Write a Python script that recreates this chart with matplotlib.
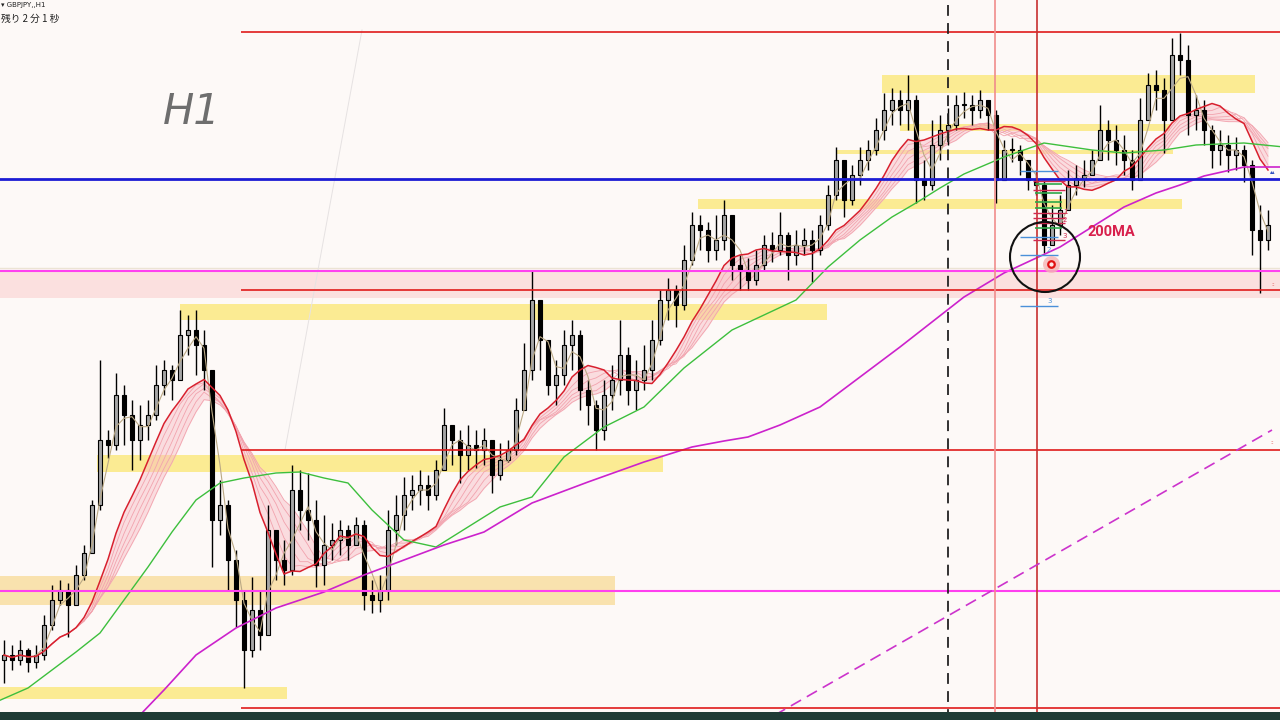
import numpy as np
import pandas as pd
import matplotlib
matplotlib.use("Agg")
import matplotlib.pyplot as plt
from matplotlib.patches import Ellipse, Rectangle

# ---------------- data (price units = chart levels) ----------------
first_open = 60
closes = [65, 60, 70, 58, 65, 95, 120, 130, 115, 145, 167, 215, 280, 275, 325, 305, 280, 295, 305, 335,
          350, 340, 385, 390, 375, 350, 200, 215, 160, 120, 70, 110, 85, 190, 160, 150, 230, 210, 200, 155,
          175, 180, 190, 175, 195, 125, 120, 130, 190, 205, 225, 230, 235, 225, 250, 295, 280, 265, 275, 270,
          280, 245, 260, 270, 310, 350, 420, 380, 335, 345, 375, 385, 330, 315, 290, 325, 340, 365, 330, 340,
          350, 380, 420, 430, 415, 460, 495, 490, 470, 480, 505, 455, 450, 440, 455, 475, 470, 485, 465, 475,
          480, 470, 495, 525, 560, 520, 545, 560, 570, 590, 610, 620, 610, 620, 540, 535, 575, 590, 595, 615,
          615, 610, 620, 605, 540, 570, 570, 560, 540, 535, 475, 495, 510, 535, 542, 545, 560, 590, 580, 570,
          560, 540, 600, 635, 630, 600, 665, 660, 605, 610, 590, 570, 575, 565, 570, 555, 490, 480, 495]
highs = [80, 75, 80, 72, 75, 105, 135, 140, 137, 155, 175, 220, 360, 290, 347, 335, 320, 315, 320, 355,
         360, 355, 410, 405, 410, 390, 340, 240, 220, 170, 130, 143, 130, 215, 190, 180, 255, 250, 247, 220,
         205, 197, 200, 195, 203, 200, 140, 145, 210, 225, 243, 245, 250, 245, 260, 312, 295, 290, 295, 290,
         292, 275, 277, 280, 322, 377, 450, 420, 370, 360, 390, 400, 390, 340, 320, 340, 355, 400, 373, 360,
         375, 400, 430, 442, 435, 475, 508, 505, 498, 505, 520, 495, 465, 462, 470, 485, 488, 508, 488, 490,
         492, 490, 505, 535, 573, 545, 555, 573, 580, 602, 627, 632, 630, 645, 625, 560, 600, 605, 612, 625,
         628, 625, 630, 620, 610, 580, 582, 575, 560, 550, 540, 515, 525, 550, 555, 560, 570, 615, 600, 595,
         585, 570, 622, 647, 650, 642, 682, 687, 675, 625, 620, 595, 590, 585, 583, 575, 560, 515, 510]
lows = [37, 50, 55, 48, 52, 60, 90, 115, 83, 120, 140, 180, 210, 262, 270, 275, 250, 260, 280, 300,
        325, 320, 340, 365, 345, 330, 153, 185, 130, 93, 32, 63, 70, 95, 140, 135, 145, 190, 180, 133,
        135, 160, 165, 160, 175, 110, 107, 108, 120, 175, 190, 210, 215, 210, 220, 250, 255, 237, 250, 252,
        255, 227, 240, 258, 265, 320, 340, 350, 325, 315, 335, 350, 310, 295, 270, 280, 310, 325, 315, 310,
        330, 340, 375, 400, 393, 410, 455, 470, 458, 460, 470, 440, 430, 430, 435, 450, 458, 465, 440, 455,
        465, 438, 465, 490, 520, 503, 515, 535, 550, 565, 580, 595, 595, 590, 517, 520, 530, 560, 575, 590,
        602, 595, 602, 590, 517, 545, 558, 545, 530, 525, 467, 475, 485, 520, 525, 533, 548, 570, 560, 555,
        545, 530, 545, 600, 610, 567, 600, 645, 585, 590, 575, 552, 555, 548, 550, 538, 465, 427, 470]

# slow moving averages (bar index, level)
green_idx = [-1, 3, 6, 9, 12, 15, 18, 21, 24, 27, 30, 34, 37, 40, 43, 46, 50, 54, 58, 62, 66, 70, 75,
             80, 85, 91, 95, 99, 103, 107, 111, 114, 117, 120, 125, 130, 136, 140, 145, 149, 155, 160]
green_val = [18, 32, 50, 68, 87, 120, 153, 188, 220, 237, 242, 247, 248, 242, 237, 210, 180, 173, 193,
             213, 223, 263, 293, 313, 352, 390, 405, 420, 453, 480, 503, 517, 532, 546, 563, 577, 570, 567,
             570, 575, 577, 573]
ma200_idx = [16, 17, 20, 24, 29, 34, 40, 45, 50, 55, 60, 66, 73, 80, 86, 90, 93, 97, 102, 107, 112, 116,
             120, 125, 132, 136, 140, 144, 147, 150, 155, 160]
ma200_val = [-5, 5, 30, 65, 92, 112, 128, 145, 160, 175, 188, 217, 238, 258, 273, 279, 283, 295, 313, 343,
             373, 398, 423, 447, 473, 493, 513, 527, 535, 544, 553, 553]

red_levels = [688, 430, 270, 12]
blue_level = 541
magenta_levels = [449, 129]

# zones: (left px, right px, low level, high level)
yellow_zones = [(882, 1255, 627, 645), (900, 1170, 589, 596), (837, 1173, 566, 570),
                (698, 1182, 511, 521), (180, 827, 400, 416), (97, 663, 248, 265), (0, 287, 21, 33)]
orange_zone = (0, 615, 115, 144)
pink_zone = (0, 1280, 422, 448)

fib_blue = [549, 483, 465, 414]
fib_green = [536, 527, 518, 512, 492]
fib_red = [539, 530, 507, 502, 497, 480]

# ---------------- figure ----------------
W, H = 1280, 720
fig = plt.figure(figsize=(12.8, 7.2), dpi=100)
fig.patch.set_facecolor("#fdf9f7")
ax = fig.add_axes([0, 0, 1, 1])
ax.set_facecolor("#fdf9f7")
n = len(closes)
ax.set_xlim(-0.5, -0.5 + W / 8.0)
ax.set_ylim(0, H)
ax.axis("off")


def px(p):
    return (p - 4) / 8.0


# zones
for (x0, x1, lo, hi) in yellow_zones:
    ax.add_patch(Rectangle((px(x0), lo), px(x1) - px(x0), hi - lo, color="#fbeb93", lw=0, zorder=1))
x0, x1, lo, hi = orange_zone
ax.add_patch(Rectangle((px(x0), lo), px(x1) - px(x0), hi - lo, color="#f9e2ae", lw=0, zorder=1))
x0, x1, lo, hi = pink_zone
ax.add_patch(Rectangle((px(x0) - 1, lo), px(x1) - px(x0) + 2, hi - lo, color="#fbe0df", lw=0, zorder=1))
ax.axhline(452, color="#ece4d4", lw=1.0, zorder=1.5)

# faint diagonal
ax.plot([px(285), px(362)], [270, 690], color="#e6e2e2", lw=0.7, zorder=1.5)

idx = np.arange(n)
c = np.array(closes, float)
o = np.r_[first_open, c[:-1]]
hi = np.maximum(np.array(highs, float), np.maximum(o, c))
lo = np.minimum(np.array(lows, float), np.minimum(o, c))

# moving averages from closes
s = pd.Series(c)
tan = s.rolling(3, min_periods=1).mean()
red = s.rolling(10, min_periods=1).mean()
rib = [s.rolling(w, min_periods=1).mean() for w in (11, 12, 13, 14, 15)]

ax.fill_between(idx, red, rib[-1], color="#f7b9c2", alpha=0.45, lw=0, zorder=2)
for r in rib:
    ax.plot(idx, r, color="#f2a3ae", lw=0.6, zorder=2.2)

# candles
ax.vlines(idx, lo, hi, color="black", lw=1.0, zorder=3)
bull = c >= o
ax.bar(idx[bull], np.maximum(c - o, 1)[bull], bottom=o[bull], width=0.55,
       color="#a6a6a6", edgecolor="black", lw=0.8, zorder=3.2)
ax.bar(idx[~bull], np.maximum(o - c, 1)[~bull], bottom=c[~bull], width=0.55,
       color="black", edgecolor="black", lw=0.8, zorder=3.2)

ax.plot(idx, tan, color="#bba985", lw=0.8, zorder=3.5)
ax.plot(idx, red, color="#d8202e", lw=1.1, zorder=3.6)
ax.plot(green_idx, green_val, color="#3dbf3d", lw=1.0, zorder=3.6)
ax.plot(ma200_idx, ma200_val, color="#cc22cc", lw=1.2, zorder=3.6)

# horizontal levels
for lv in red_levels:
    ax.hlines(lv, px(241), px(1280), color="#e01b1b", lw=1.2, zorder=4)
ax.axhline(blue_level, color="#1c1cd4", lw=2.0, zorder=4)
for lv in magenta_levels:
    ax.axhline(lv, color="#ff40f0", lw=1.5, zorder=4)

# vertical lines
ax.axvline(px(948), color="#222222", lw=1.3, ls=(0, (6, 4)), zorder=4)
ax.axvline(px(995), color="#f08c8c", lw=1.2, zorder=4)
ax.axvline(px(1037), color="#c83030", lw=1.2, zorder=4)

# dashed magenta trend line
ax.plot([px(775), px(1272)], [5, 290], color="#cc33cc", lw=1.2, ls=(0, (7, 4)), zorder=4)

# fib-like short levels
for lv in fib_blue:
    ax.hlines(lv, px(1020), px(1058), color="#4a90d9", lw=1.0, zorder=4.5)
for lv in fib_green:
    ax.hlines(lv, px(1035), px(1062), color="#2fa84a", lw=1.2, zorder=4.5)
for lv in fib_red:
    ax.hlines(lv, px(1033), px(1065), color="#d02a50", lw=1.0, zorder=4.5)


def ftext(x, y, t, **kw):
    fig.text(x / W, 1 - y / H, t, **kw)


ftext(1063, 212, "1", color="#d02a50", fontsize=5, va="center", zorder=6)
ftext(1063, 220, "2", color="#d02a50", fontsize=5, va="center", zorder=6)
ftext(1062, 236, "3", color="#d02a50", fontsize=5, va="center", zorder=6)
ftext(1047, 250, "2", color="#4a90d9", fontsize=5, va="center", zorder=6)
ftext(1047, 301, "3", color="#4a90d9", fontsize=5, va="center", zorder=6)

# circle and marker
ax.add_patch(Ellipse((px(1045), 463), 70 / 8.0, 70, fill=False, ec="#111111", lw=1.5, zorder=5))
ax.scatter([px(1051)], [456], s=150, color="#f6b4b4", alpha=0.8, lw=0, zorder=5)
ax.scatter([px(1051)], [456], s=22, facecolor="#fde8e8", edgecolor="#e01010", lw=1.6, zorder=5.1)

ftext(1087, 232, "200MA", color="#d8204c", fontsize=10.5, fontweight="bold",
      family="Roboto", va="center", ha="left")
ftext(163, 112, "H1", color="#6e6e6e", fontsize=30, style="italic", va="center", ha="left")

ftext(1, 5, "▾ GBPJPY,,H1", color="#222222", fontsize=5, va="center", ha="left")
ftext(1, 19, "残り 2 分 1 秒", color="#222222", fontsize=7, va="center", ha="left",
      family=["Noto Sans CJK JP", "DejaVu Sans"])

# right-edge small markers
ftext(1270, 172, "▴▴", color="#3050c0", fontsize=4, va="center")
ftext(1271, 285, "::", color="#e05050", fontsize=4, va="center")
ftext(1270, 443, "::", color="#e05050", fontsize=4, va="center")

# bottom dark strip
ax.add_patch(Rectangle((-1, -2), W / 8.0 + 2, 10, color="#1f3b35", lw=0, zorder=7))

fig.savefig("out.png", dpi=100, facecolor=fig.get_facecolor())
